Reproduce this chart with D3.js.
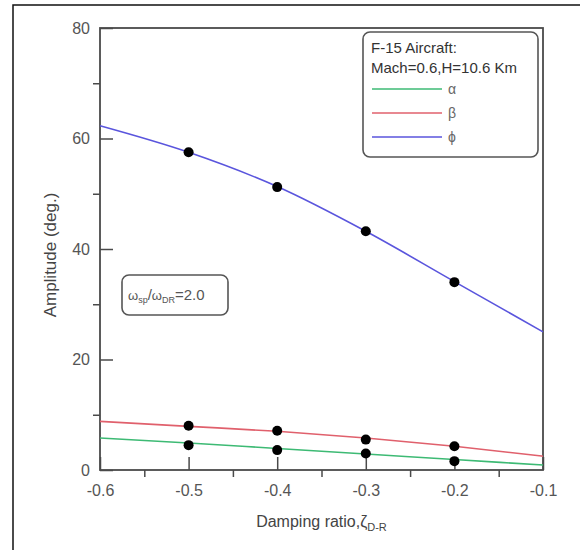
<!DOCTYPE html>
<html><head><meta charset="utf-8">
<script src="https://cdn.jsdelivr.net/npm/d3@7"></script>
<style>body{margin:0;background:#fff}svg{display:block}text{font-family:"Liberation Sans",Arial,sans-serif}</style>
</head><body>
<svg id="c" width="580" height="550"></svg>
<script>
// Data
const curveX = [-0.6, -0.5, -0.4, -0.3, -0.2, -0.1];
const alphaCurve = [5.8, 4.9, 3.9, 2.9, 1.9, 0.9];
const betaCurve  = [8.8, 7.9, 7.0, 5.8, 4.3, 2.5];
const phiCurve   = [62.3, 57.5, 51.3, 43.2, 34.1, 25.0];
const pointX = [-0.5, -0.4, -0.3, -0.2];
const alphaPts = [4.5, 3.6, 3.0, 1.6];
const betaPts  = [8.0, 7.1, 5.5, 4.3];
const phiPts   = [57.5, 51.2, 43.2, 34.0];
const xTicks = [-0.6, -0.5, -0.4, -0.3, -0.2, -0.1];
const xMinor = [-0.55, -0.45, -0.35, -0.25, -0.15];
const yTicks = [0, 20, 40, 60, 80];
const yMinor = [10, 30, 50, 70];
const seriesNames = ["\u03B1", "\u03B2", "\u03D5"];
const seriesColors = ["#3dba74", "#e0606c", "#5a55dd"];

const svg = d3.select("#c");
const L = 100, R = 543, T = 28, B = 470;
const x = d3.scaleLinear().domain([-0.6, -0.1]).range([L, R]);
const y = d3.scaleLinear().domain([0, 80]).range([B, T]);

// outer frame
svg.append("rect").attr("x", 13).attr("y", 5).attr("width", 700).attr("height", 700)
  .attr("fill", "none").attr("stroke", "#111").attr("stroke-width", 1.5);

const axCol = "#4a4a4a";
// x axis: major ticks inward, minor outward
const gx = svg.append("g").attr("transform", `translate(0,${B})`)
  .call(d3.axisBottom(x).tickValues(xTicks).tickSize(-13).tickPadding(15)
    .tickFormat(d => d3.format(".1f")(d).replace("\u2212", "-")));
gx.select(".domain").remove();
gx.selectAll("line").attr("stroke", axCol).attr("stroke-width", 1.5);
gx.selectAll("text").attr("fill", "#555").attr("font-size", 16);
const gxm = svg.append("g").attr("transform", `translate(0,${B})`)
  .call(d3.axisBottom(x).tickValues(xMinor).tickSize(7).tickFormat(""));
gxm.select(".domain").remove();
gxm.selectAll("line").attr("stroke", axCol).attr("stroke-width", 1.5);

const gy = svg.append("g").attr("transform", `translate(${L},0)`)
  .call(d3.axisLeft(y).tickValues(yTicks).tickSize(-13).tickPadding(10));
gy.select(".domain").remove();
gy.selectAll("line").attr("stroke", axCol).attr("stroke-width", 1.5);
gy.selectAll("text").attr("fill", "#555").attr("font-size", 16);
const gym = svg.append("g").attr("transform", `translate(${L},0)`)
  .call(d3.axisLeft(y).tickValues(yMinor).tickSize(7).tickFormat(""));
gym.select(".domain").remove();
gym.selectAll("line").attr("stroke", axCol).attr("stroke-width", 1.5);

// plot frame
svg.append("rect").attr("x", L).attr("y", T).attr("width", R - L).attr("height", B - T)
  .attr("fill", "none").attr("stroke", axCol).attr("stroke-width", 1.8);

// curves
const line = d3.line().x(d => x(d[0])).y(d => y(d[1])).curve(d3.curveMonotoneX);
[alphaCurve, betaCurve, phiCurve].forEach((vals, i) => {
  svg.append("path").datum(curveX.map((cx, j) => [cx, vals[j]]))
    .attr("d", line).attr("fill", "none").attr("stroke", seriesColors[i]).attr("stroke-width", 1.6);
});
// points
[alphaPts, betaPts, phiPts].forEach(vals => {
  svg.append("g").selectAll("circle").data(pointX.map((px, j) => [px, vals[j]])).join("circle")
    .attr("cx", d => x(d[0])).attr("cy", d => y(d[1])).attr("r", 5).attr("fill", "#000");
});

// axis titles
svg.append("text").attr("x", (L + R) / 2).attr("y", 527).attr("text-anchor", "middle")
  .attr("fill", "#444").attr("font-size", 16)
  .call(t => {
    t.append("tspan").text("Damping ratio,\u03B6");
    t.append("tspan").attr("dy", 4).attr("font-size", 11).text("D-R");
  });
svg.append("text").attr("transform", `translate(56,${(T + B) / 2 + 6}) rotate(-90)`)
  .attr("text-anchor", "middle").attr("fill", "#444").attr("font-size", 17)
  .text("Amplitude (deg.)");

// legend
const lg = svg.append("g");
lg.append("rect").attr("x", 363).attr("y", 32).attr("width", 175).attr("height", 125).attr("rx", 7)
  .attr("fill", "#fff").attr("stroke", "#555").attr("stroke-width", 1.6);
lg.append("text").attr("x", 371).attr("y", 53).attr("font-size", 15).attr("fill", "#333").text("F-15 Aircraft:");
lg.append("text").attr("x", 371).attr("y", 73).attr("font-size", 15).attr("fill", "#333").text("Mach=0.6,H=10.6 Km");
seriesNames.forEach((n, i) => {
  const yy = 89 + i * 24;
  lg.append("line").attr("x1", 372).attr("x2", 442).attr("y1", yy).attr("y2", yy)
    .attr("stroke", seriesColors[i]).attr("stroke-width", 1.6);
  lg.append("text").attr("x", 448).attr("y", yy + 5).attr("font-size", 14).attr("fill", "#666").text(n);
});

// annotation
const an = svg.append("g");
an.append("rect").attr("x", 122).attr("y", 275).attr("width", 106).attr("height", 40).attr("rx", 7)
  .attr("fill", "#fff").attr("stroke", "#555").attr("stroke-width", 1.6);
an.append("text").attr("x", 128).attr("y", 300).attr("font-size", 15).attr("fill", "#555")
  .call(t => {
    t.append("tspan").attr("font-size", 13).text("\u03C9");
    t.append("tspan").attr("dy", 3).attr("font-size", 9).text("sp");
    t.append("tspan").attr("dy", -3).text("/");
    t.append("tspan").attr("font-size", 13).text("\u03C9");
    t.append("tspan").attr("dy", 3).attr("font-size", 9).text("DR");
    t.append("tspan").attr("dy", -3).text("=2.0");
  });
</script>
</body></html>
